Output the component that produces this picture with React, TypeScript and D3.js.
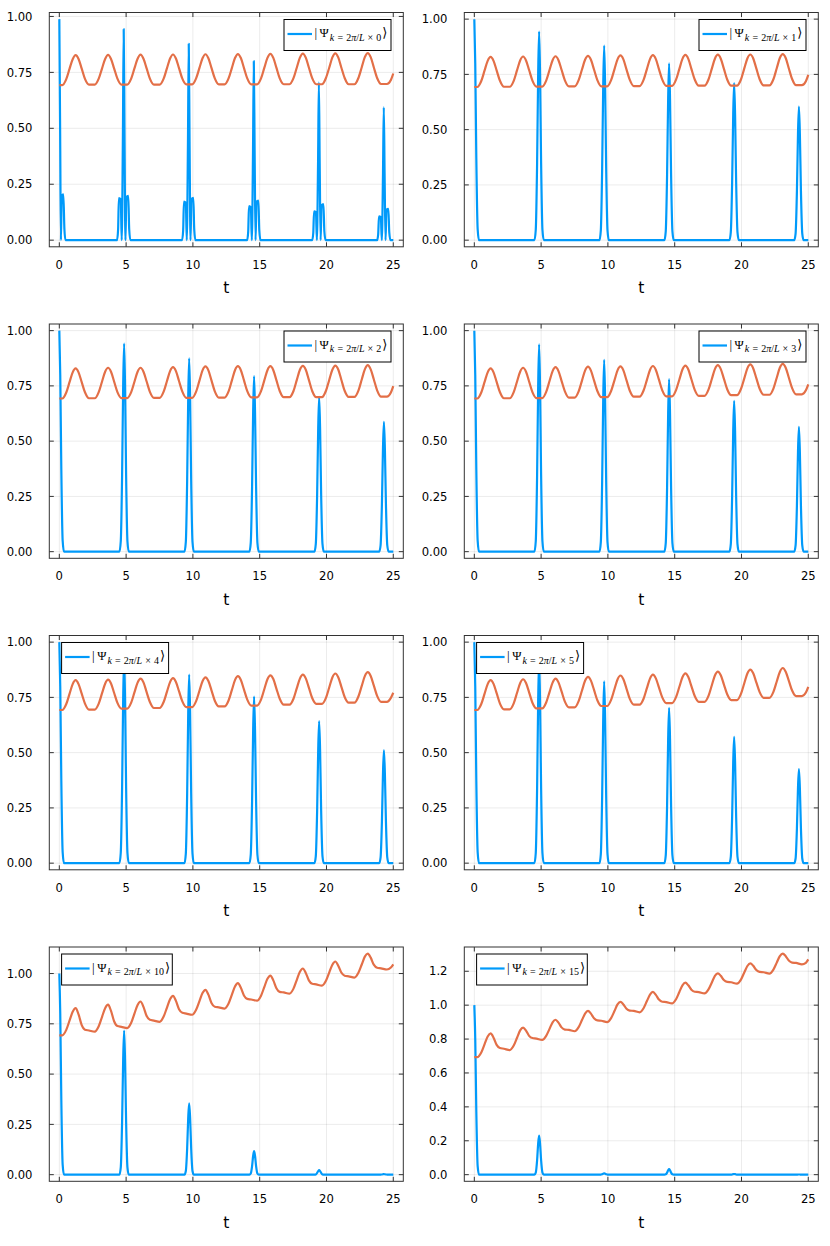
import React from 'react';
import * as d3 from 'd3';

// page + subplot geometry (Plots.jl style 4x2 grid)
const W = 830;
const H = 1246;
const CELL_W = 415;
const CELL_H = 311.5;
const FRAME = { left: 49.3, right: 403.3, top: 12.5, bottom: 246.8 };

const BLUE = '#009AFA';
const ORANGE = '#E36F47';

const PANEL_K = [0, 1, 2, 3, 4, 5, 10, 15];
const LEGEND_SIDE = ['right', 'right', 'right', 'right', 'left', 'left', 'left', 'left'];
const X_TICKS = [0, 5, 10, 15, 20, 25];
const Y_TICKS_QUARTER = [0, 0.25, 0.5, 0.75, 1.0];
const Y_TICKS_FIFTH = [0, 0.2, 0.4, 0.6, 0.8, 1.0, 1.2];

// orange curve, sampled around each of its ten bumps
const ORANGE_T = [
  0,
  0.22, 0.52, 0.77, 1.0, 1.22, 1.44, 1.67, 1.92, 2.22,
  2.65, 2.95, 3.2, 3.43, 3.65, 3.87, 4.1, 4.35, 4.65,
  5.08, 5.38, 5.63, 5.86, 6.08, 6.3, 6.53, 6.78, 7.08,
  7.51, 7.81, 8.06, 8.29, 8.51, 8.73, 8.96, 9.21, 9.51,
  9.94, 10.24, 10.49, 10.72, 10.94, 11.16, 11.39, 11.64, 11.94,
  12.37, 12.67, 12.92, 13.15, 13.37, 13.59, 13.82, 14.07, 14.37,
  14.8, 15.1, 15.35, 15.58, 15.8, 16.02, 16.25, 16.5, 16.8,
  17.23, 17.53, 17.78, 18.01, 18.23, 18.45, 18.68, 18.93, 19.23,
  19.66, 19.96, 20.21, 20.44, 20.66, 20.88, 21.11, 21.36, 21.66,
  22.09, 22.39, 22.64, 22.87, 23.09, 23.31, 23.54, 23.79, 24.09,
  24.52, 24.82, 25.0,
];

const ORANGE_K0 = [
  0.693,
  0.693, 0.72, 0.767, 0.809, 0.827, 0.81, 0.768, 0.721, 0.695,
  0.695, 0.722, 0.768, 0.81, 0.828, 0.81, 0.768, 0.722, 0.695,
  0.695, 0.722, 0.769, 0.811, 0.829, 0.811, 0.769, 0.722, 0.695,
  0.695, 0.722, 0.769, 0.812, 0.83, 0.812, 0.769, 0.722, 0.696,
  0.696, 0.723, 0.77, 0.813, 0.831, 0.813, 0.77, 0.723, 0.696,
  0.696, 0.723, 0.77, 0.814, 0.832, 0.814, 0.77, 0.723, 0.696,
  0.696, 0.723, 0.771, 0.815, 0.833, 0.815, 0.771, 0.723, 0.697,
  0.697, 0.724, 0.772, 0.816, 0.834, 0.816, 0.772, 0.724, 0.697,
  0.697, 0.725, 0.772, 0.817, 0.835, 0.817, 0.772, 0.725, 0.697,
  0.697, 0.725, 0.773, 0.818, 0.836, 0.818, 0.773, 0.725, 0.698,
  0.698, 0.716, 0.745,
];

const ORANGE_K1 = [
  0.693,
  0.693, 0.72, 0.768, 0.811, 0.829, 0.811, 0.768, 0.721, 0.694,
  0.694, 0.721, 0.769, 0.813, 0.831, 0.813, 0.77, 0.722, 0.695,
  0.695, 0.722, 0.77, 0.814, 0.832, 0.814, 0.771, 0.723, 0.696,
  0.696, 0.724, 0.772, 0.816, 0.834, 0.816, 0.772, 0.724, 0.696,
  0.696, 0.724, 0.773, 0.818, 0.836, 0.818, 0.773, 0.725, 0.697,
  0.697, 0.725, 0.774, 0.819, 0.837, 0.819, 0.774, 0.726, 0.698,
  0.698, 0.726, 0.775, 0.82, 0.838, 0.82, 0.775, 0.727, 0.699,
  0.699, 0.727, 0.776, 0.821, 0.839, 0.821, 0.776, 0.727, 0.699,
  0.699, 0.727, 0.777, 0.822, 0.84, 0.822, 0.777, 0.728, 0.7,
  0.7, 0.728, 0.778, 0.824, 0.842, 0.824, 0.778, 0.729, 0.701,
  0.701, 0.719, 0.748,
];

const ORANGE_K2 = [
  0.693,
  0.693, 0.72, 0.768, 0.811, 0.829, 0.811, 0.768, 0.721, 0.694,
  0.694, 0.722, 0.77, 0.814, 0.832, 0.814, 0.77, 0.722, 0.695,
  0.695, 0.722, 0.77, 0.814, 0.832, 0.814, 0.771, 0.723, 0.696,
  0.696, 0.724, 0.772, 0.817, 0.835, 0.817, 0.772, 0.724, 0.696,
  0.696, 0.724, 0.774, 0.82, 0.838, 0.82, 0.775, 0.725, 0.697,
  0.697, 0.725, 0.775, 0.821, 0.839, 0.821, 0.776, 0.726, 0.698,
  0.698, 0.726, 0.776, 0.821, 0.839, 0.821, 0.776, 0.727, 0.699,
  0.699, 0.727, 0.777, 0.823, 0.841, 0.823, 0.777, 0.727, 0.699,
  0.699, 0.728, 0.778, 0.823, 0.842, 0.824, 0.778, 0.728, 0.7,
  0.7, 0.729, 0.779, 0.825, 0.844, 0.825, 0.78, 0.73, 0.701,
  0.701, 0.72, 0.749,
];

const ORANGE_K3 = [
  0.693,
  0.693, 0.72, 0.768, 0.811, 0.829, 0.811, 0.768, 0.721, 0.694,
  0.694, 0.722, 0.77, 0.814, 0.832, 0.814, 0.77, 0.722, 0.695,
  0.695, 0.723, 0.772, 0.817, 0.835, 0.817, 0.773, 0.725, 0.697,
  0.697, 0.725, 0.774, 0.819, 0.837, 0.819, 0.775, 0.727, 0.699,
  0.699, 0.727, 0.775, 0.82, 0.838, 0.82, 0.776, 0.728, 0.701,
  0.701, 0.729, 0.777, 0.822, 0.84, 0.822, 0.778, 0.73, 0.703,
  0.703, 0.731, 0.779, 0.824, 0.842, 0.824, 0.78, 0.732, 0.705,
  0.705, 0.733, 0.781, 0.826, 0.844, 0.826, 0.783, 0.735, 0.708,
  0.708, 0.736, 0.784, 0.829, 0.847, 0.829, 0.785, 0.737, 0.71,
  0.71, 0.738, 0.787, 0.832, 0.85, 0.832, 0.788, 0.74, 0.712,
  0.712, 0.73, 0.757,
];

const ORANGE_K4 = [
  0.693,
  0.693, 0.72, 0.767, 0.81, 0.828, 0.81, 0.768, 0.722, 0.695,
  0.695, 0.722, 0.769, 0.812, 0.83, 0.813, 0.771, 0.725, 0.699,
  0.699, 0.726, 0.774, 0.817, 0.835, 0.818, 0.775, 0.729, 0.702,
  0.702, 0.729, 0.776, 0.819, 0.837, 0.82, 0.778, 0.732, 0.706,
  0.706, 0.733, 0.78, 0.823, 0.841, 0.824, 0.782, 0.735, 0.709,
  0.709, 0.736, 0.784, 0.828, 0.846, 0.829, 0.786, 0.74, 0.713,
  0.713, 0.74, 0.788, 0.832, 0.85, 0.833, 0.79, 0.744, 0.717,
  0.717, 0.744, 0.792, 0.835, 0.853, 0.836, 0.794, 0.747, 0.721,
  0.721, 0.748, 0.796, 0.84, 0.858, 0.841, 0.799, 0.752, 0.726,
  0.726, 0.754, 0.802, 0.846, 0.864, 0.847, 0.804, 0.757, 0.73,
  0.73, 0.748, 0.771,
];

const ORANGE_K5 = [
  0.693,
  0.693, 0.72, 0.767, 0.81, 0.828, 0.811, 0.769, 0.722, 0.696,
  0.696, 0.723, 0.771, 0.814, 0.832, 0.815, 0.773, 0.726, 0.7,
  0.7, 0.727, 0.774, 0.817, 0.835, 0.818, 0.777, 0.731, 0.705,
  0.705, 0.733, 0.781, 0.825, 0.843, 0.826, 0.784, 0.737, 0.711,
  0.711, 0.739, 0.787, 0.831, 0.849, 0.832, 0.79, 0.743, 0.717,
  0.717, 0.744, 0.792, 0.835, 0.853, 0.836, 0.795, 0.75, 0.724,
  0.724, 0.751, 0.798, 0.841, 0.859, 0.842, 0.801, 0.756, 0.73,
  0.73, 0.757, 0.805, 0.849, 0.867, 0.85, 0.809, 0.764, 0.738,
  0.738, 0.766, 0.814, 0.858, 0.876, 0.859, 0.818, 0.774, 0.748,
  0.748, 0.775, 0.822, 0.865, 0.883, 0.866, 0.826, 0.781, 0.756,
  0.756, 0.772, 0.798,
];

const ORANGE_K10 = [
  0.693,
  0.693, 0.72, 0.767, 0.81, 0.828, 0.797, 0.745, 0.721, 0.717,
  0.711, 0.738, 0.785, 0.828, 0.845, 0.814, 0.763, 0.739, 0.735,
  0.729, 0.755, 0.802, 0.844, 0.861, 0.834, 0.79, 0.77, 0.766,
  0.76, 0.786, 0.831, 0.872, 0.889, 0.864, 0.823, 0.805, 0.801,
  0.795, 0.82, 0.863, 0.903, 0.919, 0.895, 0.854, 0.835, 0.832,
  0.826, 0.851, 0.895, 0.936, 0.952, 0.929, 0.891, 0.874, 0.871,
  0.865, 0.89, 0.934, 0.974, 0.99, 0.966, 0.927, 0.909, 0.906,
  0.9, 0.925, 0.969, 1.009, 1.025, 1.003, 0.966, 0.949, 0.946,
  0.94, 0.964, 1.006, 1.044, 1.06, 1.039, 1.005, 0.989, 0.986,
  0.98, 1.004, 1.045, 1.084, 1.099, 1.079, 1.044, 1.029, 1.026,
  1.02, 1.03, 1.046,
];

const ORANGE_K15 = [
  0.693,
  0.693, 0.721, 0.77, 0.815, 0.833, 0.808, 0.766, 0.747, 0.743,
  0.735, 0.762, 0.808, 0.851, 0.868, 0.85, 0.819, 0.806, 0.803,
  0.795, 0.819, 0.86, 0.899, 0.914, 0.897, 0.869, 0.856, 0.854,
  0.846, 0.87, 0.912, 0.95, 0.966, 0.95, 0.923, 0.91, 0.908,
  0.9, 0.924, 0.965, 1.004, 1.019, 1.004, 0.979, 0.968, 0.966,
  0.958, 0.982, 1.024, 1.062, 1.078, 1.061, 1.033, 1.02, 1.018,
  1.01, 1.035, 1.078, 1.117, 1.133, 1.117, 1.091, 1.079, 1.077,
  1.069, 1.093, 1.134, 1.173, 1.188, 1.173, 1.148, 1.137, 1.135,
  1.127, 1.151, 1.193, 1.231, 1.247, 1.232, 1.207, 1.196, 1.194,
  1.186, 1.21, 1.251, 1.289, 1.304, 1.289, 1.263, 1.251, 1.249,
  1.241, 1.25, 1.27,
];

// blue curve: narrow revival peaks
const BLUE_T = [
  0, 0.07, 0.15, 0.25, 0.35,
  4.5, 4.6, 4.7, 4.78, 4.85, 4.92, 5.0, 5.1, 5.2,
  9.37, 9.47, 9.57, 9.65, 9.72, 9.79, 9.87, 9.97, 10.07,
  14.23, 14.33, 14.43, 14.51, 14.58, 14.65, 14.73, 14.83, 14.93,
  19.1, 19.2, 19.3, 19.38, 19.45, 19.52, 19.6, 19.7, 19.8,
  23.95, 24.05, 24.15, 24.23, 24.3, 24.37, 24.45, 24.55, 24.65,
  25.0,
];

// k = 0 has side lobes next to each revival, so its own sampling
const BLUE_T_K0 = [
  0, 0.06, 0.12, 0.18, 0.3, 0.38, 0.46,
  4.32, 4.4, 4.46, 4.6, 4.67, 4.76, 4.82, 4.88, 4.95, 5.02, 5.16, 5.23, 5.32,
  9.19, 9.27, 9.33, 9.47, 9.54, 9.63, 9.69, 9.75, 9.82, 9.89, 10.03, 10.1, 10.19,
  14.06, 14.14, 14.2, 14.34, 14.41, 14.5, 14.56, 14.62, 14.69, 14.76, 14.9, 14.97, 15.06,
  18.93, 19.01, 19.07, 19.21, 19.28, 19.37, 19.43, 19.49, 19.56, 19.63, 19.77, 19.84, 19.93,
  23.79, 23.87, 23.93, 24.07, 24.14, 24.23, 24.29, 24.35, 24.42, 24.49, 24.63, 24.7, 24.79,
  25.0,
];

const BLUE_K0 = [
  0.988, 0.5, 0, 0.2, 0.205, 0.05, 0,
  0, 0.047, 0.188, 0.183, 0, 0.47, 0.943, 0.47, 0, 0.192, 0.198, 0.05, 0,
  0, 0.043, 0.172, 0.167, 0, 0.44, 0.878, 0.44, 0, 0.183, 0.189, 0.047, 0,
  0, 0.038, 0.152, 0.147, 0, 0.4, 0.8, 0.4, 0, 0.172, 0.177, 0.044, 0,
  0, 0.032, 0.129, 0.125, 0, 0.352, 0.705, 0.352, 0, 0.156, 0.161, 0.04, 0,
  0, 0.026, 0.106, 0.102, 0, 0.297, 0.594, 0.297, 0, 0.136, 0.14, 0.035, 0,
  0,
];

const BLUE_K1 = [
  1.0, 0.8, 0.37, 0.05, 0,
  0, 0.047, 0.349, 0.755, 0.944, 0.755, 0.349, 0.047, 0,
  0, 0.044, 0.326, 0.704, 0.88, 0.704, 0.326, 0.044, 0,
  0, 0.04, 0.296, 0.64, 0.8, 0.64, 0.296, 0.04, 0,
  0, 0.036, 0.263, 0.569, 0.711, 0.569, 0.263, 0.036, 0,
  0, 0.03, 0.223, 0.483, 0.604, 0.483, 0.223, 0.03, 0,
  0,
];

const BLUE_K2 = [
  1.0, 0.8, 0.37, 0.05, 0,
  0, 0.047, 0.348, 0.753, 0.941, 0.753, 0.348, 0.047, 0,
  0, 0.044, 0.324, 0.7, 0.875, 0.7, 0.324, 0.044, 0,
  0, 0.04, 0.294, 0.635, 0.794, 0.635, 0.294, 0.04, 0,
  0, 0.035, 0.259, 0.56, 0.7, 0.56, 0.259, 0.035, 0,
  0, 0.029, 0.217, 0.47, 0.587, 0.47, 0.217, 0.029, 0,
  0,
];

const BLUE_K3 = [
  1.0, 0.8, 0.37, 0.05, 0,
  0, 0.047, 0.347, 0.75, 0.938, 0.75, 0.347, 0.047, 0,
  0, 0.043, 0.321, 0.694, 0.868, 0.694, 0.321, 0.043, 0,
  0, 0.039, 0.289, 0.625, 0.781, 0.625, 0.289, 0.039, 0,
  0, 0.034, 0.252, 0.546, 0.682, 0.546, 0.252, 0.034, 0,
  0, 0.028, 0.209, 0.452, 0.565, 0.452, 0.209, 0.028, 0,
  0,
];

const BLUE_K4 = [
  1.0, 0.8, 0.37, 0.05, 0,
  0, 0.047, 0.344, 0.744, 0.93, 0.744, 0.344, 0.047, 0,
  0, 0.043, 0.316, 0.682, 0.853, 0.682, 0.316, 0.043, 0,
  0, 0.038, 0.279, 0.603, 0.754, 0.603, 0.279, 0.038, 0,
  0, 0.032, 0.238, 0.514, 0.643, 0.514, 0.238, 0.032, 0,
  0, 0.026, 0.189, 0.409, 0.511, 0.409, 0.189, 0.026, 0,
  0,
];

const BLUE_K5 = [
  1.0, 0.8, 0.37, 0.05, 0,
  0, 0.046, 0.34, 0.736, 0.92, 0.736, 0.34, 0.046, 0,
  0, 0.041, 0.305, 0.658, 0.823, 0.658, 0.305, 0.041, 0,
  0, 0.035, 0.26, 0.562, 0.703, 0.562, 0.26, 0.035, 0,
  0, 0.029, 0.211, 0.457, 0.571, 0.457, 0.211, 0.029, 0,
  0, 0.021, 0.158, 0.341, 0.426, 0.341, 0.158, 0.021, 0,
  0,
];

const BLUE_K10 = [
  1.0, 0.8, 0.37, 0.05, 0,
  0, 0.036, 0.265, 0.573, 0.716, 0.573, 0.265, 0.036, 0,
  0, 0.018, 0.131, 0.284, 0.355, 0.284, 0.131, 0.018, 0,
  0, 0.006, 0.043, 0.094, 0.117, 0.094, 0.043, 0.006, 0,
  0, 0.001, 0.009, 0.018, 0.023, 0.018, 0.009, 0.001, 0,
  0, 0, 0.001, 0.002, 0.003, 0.002, 0.001, 0, 0,
  0,
];

const BLUE_K15 = [
  1.0, 0.8, 0.37, 0.05, 0,
  0, 0.012, 0.085, 0.185, 0.231, 0.185, 0.085, 0.012, 0,
  0, 0, 0.003, 0.006, 0.008, 0.006, 0.003, 0, 0,
  0, 0.002, 0.012, 0.026, 0.033, 0.026, 0.012, 0.002, 0,
  0, 0, 0.001, 0.003, 0.004, 0.003, 0.001, 0, 0,
  0, 0, 0, 0.001, 0.001, 0.001, 0, 0, 0,
  0,
];

const ORANGE_VALUES = [ORANGE_K0, ORANGE_K1, ORANGE_K2, ORANGE_K3, ORANGE_K4, ORANGE_K5, ORANGE_K10, ORANGE_K15];
const BLUE_VALUES = [BLUE_K0, BLUE_K1, BLUE_K2, BLUE_K3, BLUE_K4, BLUE_K5, BLUE_K10, BLUE_K15];

const TICK_FONT = "'DejaVu Sans', sans-serif";
const MATH_FONT = "'Liberation Serif', 'DejaVu Serif', serif";
const FRAME_COLOR = '#333';
const TICK_LEN = 4.5;

const Panel = ({ idx }: { idx: number }) => {
  const k = PANEL_K[idx];
  const ox = (idx % 2) * CELL_W;
  const oy = Math.floor(idx / 2) * CELL_H;
  const x0 = ox + FRAME.left;
  const x1 = ox + FRAME.right;
  const y0 = oy + FRAME.top;
  const y1 = oy + FRAME.bottom;

  const blueT = idx === 0 ? BLUE_T_K0 : BLUE_T;
  const blueV = BLUE_VALUES[idx];
  const orangeV = ORANGE_VALUES[idx];

  // Plots.jl pads the data range by 3% on each side
  const [tMin, tMax] = d3.extent(ORANGE_T) as [number, number];
  const tPad = (tMax - tMin) * 0.03;
  const [vMin, vMax] = d3.extent([...blueV, ...orangeV]) as [number, number];
  const vPad = (vMax - vMin) * 0.03;

  const x = d3.scaleLinear().domain([tMin - tPad, tMax + tPad]).range([x0, x1]);
  const y = d3.scaleLinear().domain([vMin - vPad, vMax + vPad]).range([y1, y0]);

  const yTicks = k === 15 ? Y_TICKS_FIFTH : Y_TICKS_QUARTER;
  const yFmt = d3.format(k === 15 ? '.1f' : '.2f');

  const line = d3
    .line<[number, number]>()
    .x((d) => x(d[0]))
    .y((d) => y(d[1]))
    .curve(d3.curveMonotoneX);

  const bluePath = line(blueT.map((t, i) => [t, blueV[i]] as [number, number])) || '';
  const orangePath = line(ORANGE_T.map((t, i) => [t, orangeV[i]] as [number, number])) || '';

  // legend box
  const legW = k >= 10 ? 110.7 : 107;
  const legH = 31;
  const lx = LEGEND_SIDE[idx] === 'right' ? x1 - 12.3 - legW : x0 + 12.3;
  const ly = y0 + 7;

  return (
    <g>
      {/* grid */}
      {X_TICKS.map((t) => (
        <line key={`gx${t}`} x1={x(t)} x2={x(t)} y1={y0} y2={y1} stroke="#000" strokeOpacity={0.1} strokeWidth={0.8} />
      ))}
      {yTicks.map((v) => (
        <line key={`gy${v}`} x1={x0} x2={x1} y1={y(v)} y2={y(v)} stroke="#000" strokeOpacity={0.1} strokeWidth={0.8} />
      ))}

      {/* series */}
      <path d={bluePath} fill="none" stroke={BLUE} strokeWidth={2.2} strokeLinejoin="round" />
      <path d={orangePath} fill="none" stroke={ORANGE} strokeWidth={2.2} strokeLinejoin="round" />

      {/* frame + mirrored inward ticks */}
      <rect x={x0} y={y0} width={x1 - x0} height={y1 - y0} fill="none" stroke={FRAME_COLOR} strokeWidth={1} />
      {X_TICKS.map((t) => (
        <g key={`tx${t}`} stroke={FRAME_COLOR} strokeWidth={1}>
          <line x1={x(t)} x2={x(t)} y1={y1} y2={y1 - TICK_LEN} />
          <line x1={x(t)} x2={x(t)} y1={y0} y2={y0 + TICK_LEN} />
        </g>
      ))}
      {yTicks.map((v) => (
        <g key={`ty${v}`} stroke={FRAME_COLOR} strokeWidth={1}>
          <line x1={x0} x2={x0 + TICK_LEN} y1={y(v)} y2={y(v)} />
          <line x1={x1} x2={x1 - TICK_LEN} y1={y(v)} y2={y(v)} />
        </g>
      ))}

      {/* tick labels */}
      {X_TICKS.map((t) => (
        <text key={`lx${t}`} x={x(t)} y={y1 + 22} textAnchor="middle" fontFamily={TICK_FONT} fontSize={11.6} fill="#000">
          {t}
        </text>
      ))}
      {yTicks.map((v) => (
        <text key={`ly${v}`} x={ox + 32.5} y={y(v)} dy="0.36em" textAnchor="end" fontFamily={TICK_FONT} fontSize={11.6} fill="#000">
          {yFmt(v)}
        </text>
      ))}
      <text x={(x0 + x1) / 2} y={y1 + 46.5} textAnchor="middle" fontFamily={TICK_FONT} fontSize={15.5} fill="#000">
        t
      </text>

      {/* legend */}
      <rect x={lx} y={ly} width={legW} height={legH} fill="#fff" stroke="#000" strokeWidth={1} />
      <line x1={lx + 3.5} x2={lx + 28} y1={ly + 14.5} y2={ly + 14.5} stroke={BLUE} strokeWidth={2.2} />
      <text x={lx + 30.5} y={ly + 17.5} fontFamily={MATH_FONT} fontSize={13} fill="#000">
        <tspan>|</tspan>
        <tspan dx={2.5} fontSize={12.5}>Ψ</tspan>
        <tspan dx={1} dy={3.8} fontSize={10} wordSpacing={0.6}>
          <tspan fontStyle="italic">k</tspan> = 2<tspan fontStyle="italic">π</tspan>/<tspan fontStyle="italic">L</tspan> × {k}
        </tspan>
        <tspan dx={1} dy={-3.8}>⟩</tspan>
      </text>
    </g>
  );
};

export default function App() {
  return (
    <>
      <style>{'body{margin:0;}'}</style>
      <svg width={W} height={H} viewBox={`0 0 ${W} ${H}`} style={{ display: 'block', background: '#fff' }}>
        {PANEL_K.map((k, i) => (
          <Panel key={k} idx={i} />
        ))}
      </svg>
    </>
  );
}
